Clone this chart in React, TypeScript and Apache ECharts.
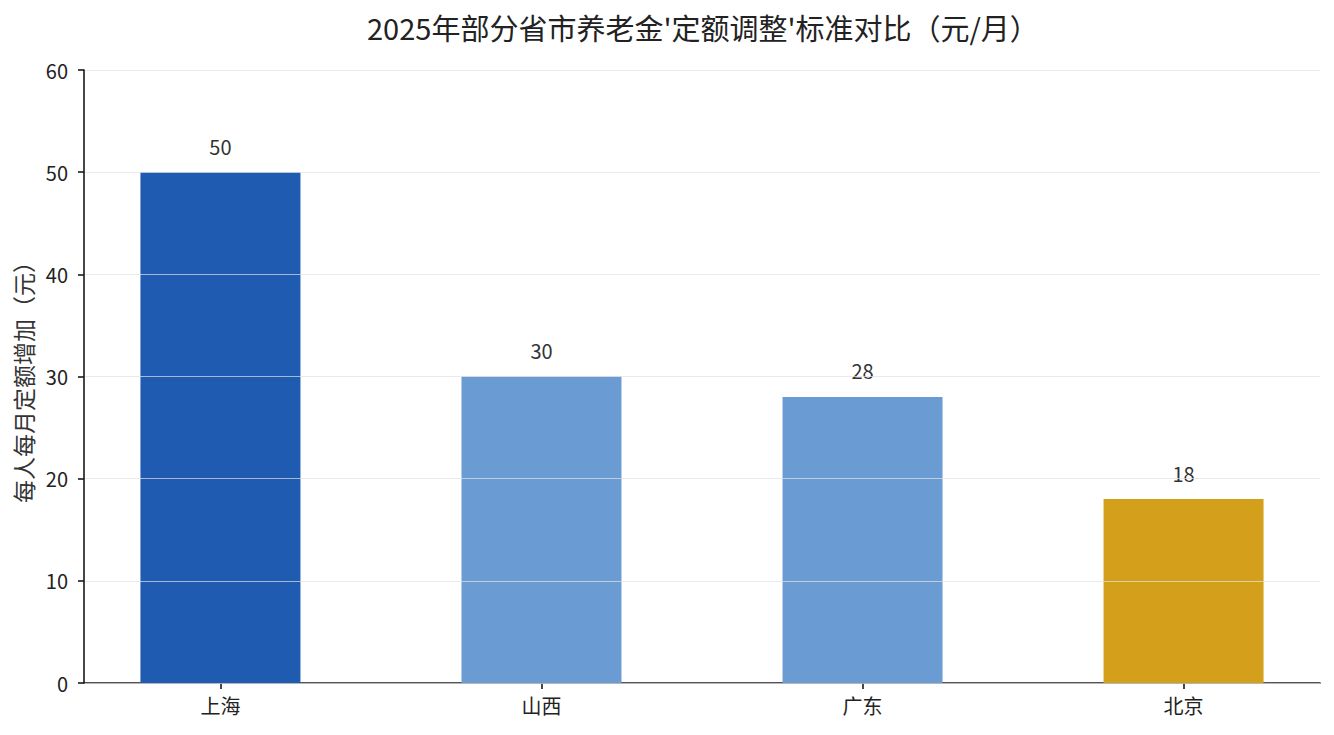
import { useEffect, useRef } from 'react';
import * as echarts from 'echarts';

// provinces / cities and their monthly fixed-amount increase (元)
const categories = ['上海', '山西', '广东', '北京'];
const increases = [50, 30, 28, 18];
const barColors = ['#1f5bb0', '#6b9bd3', '#6b9bd3', '#d4a01c'];
const yTicks = { min: 0, max: 60, interval: 10 };

const FONT = '"Noto Sans CJK SC", "Noto Sans", sans-serif';

const App = () => {
    const chartRef = useRef<HTMLDivElement>(null);

    useEffect(() => {
        if (!chartRef.current) return;
        const chart = echarts.init(chartRef.current, undefined, { renderer: 'svg' });

        const option: echarts.EChartsOption = {
            animation: false,
            backgroundColor: '#ffffff',
            textStyle: { fontFamily: FONT },
            title: {
                text: "2025年部分省市养老金'定额调整'标准对比（元/月）",
                left: 362,
                top: 7,
                textStyle: { fontSize: 29, fontWeight: 'normal', color: '#222', fontFamily: FONT }
            },
            grid: { left: 84, right: 14, top: 70, bottom: 52, containLabel: false },
            xAxis: {
                type: 'value',
                min: -0.425,
                max: 3.425,
                axisLine: { show: true, onZero: false, lineStyle: { color: '#1a1a1a', width: 1.6 } },
                axisTick: { show: true, customValues: [0, 1, 2, 3], length: 6, lineStyle: { color: '#1a1a1a', width: 1.6 } },
                axisLabel: {
                    customValues: [0, 1, 2, 3],
                    formatter: (v: number) => categories[Math.round(v)] ?? '',
                    fontSize: 20,
                    color: '#222',
                    margin: 12,
                    fontFamily: FONT
                },
                splitLine: { show: false }
            },
            yAxis: {
                type: 'value',
                min: yTicks.min,
                max: yTicks.max,
                interval: yTicks.interval,
                z: 3,
                name: '每人每月定额增加（元）',
                nameLocation: 'middle',
                nameGap: 50,
                nameTextStyle: { fontSize: 23, color: '#333', fontFamily: FONT },
                axisLine: { show: true, onZero: false, lineStyle: { color: '#1a1a1a', width: 1.6 } },
                axisTick: { show: true, length: 6, lineStyle: { color: '#1a1a1a', width: 1.6 } },
                axisLabel: { fontSize: 20, color: '#222', margin: 16, fontFamily: FONT },
                splitLine: { show: true, lineStyle: { color: 'rgba(225,225,225,0.7)', width: 1 } }
            },
            series: [
                {
                    type: 'bar',
                    barWidth: 160,
                    data: increases.map((v, i) => ({
                        value: [i, v],
                        itemStyle: { color: barColors[i] }
                    })),
                    label: {
                        show: true,
                        position: 'top',
                        distance: 16,
                        fontSize: 20,
                        color: '#333',
                        fontFamily: FONT,
                        formatter: (p: any) => String(p.value[1])
                    }
                }
            ]
        };

        chart.setOption(option);
        return () => {
            chart.dispose();
        };
    }, []);

    return (
        <div
            ref={chartRef}
            style={{ position: 'absolute', left: 0, top: 0, width: 1334, height: 735 }}
        />
    );
};

export default App;
